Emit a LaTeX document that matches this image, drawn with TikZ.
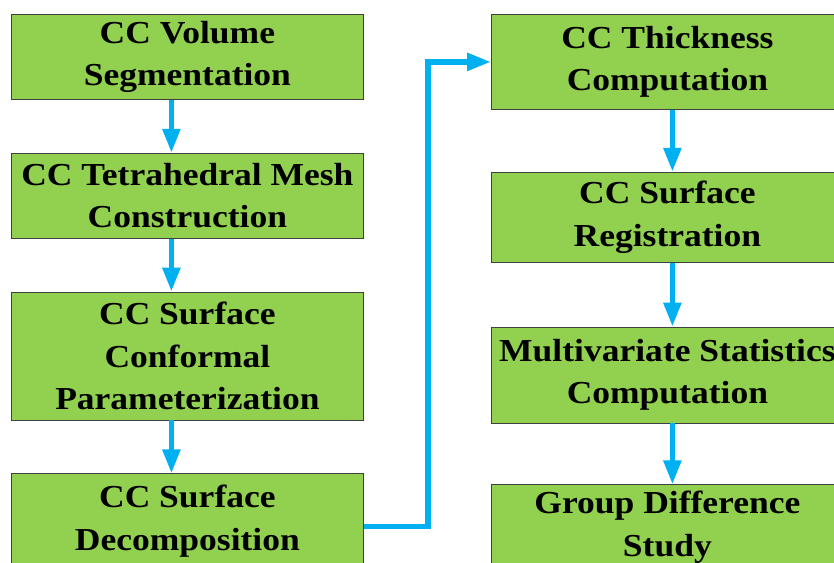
\documentclass[tikz,border=0pt]{standalone}
\usepackage{fontspec}
\setmainfont{Liberation Serif}[FakeStretch=1.11]
\usetikzlibrary{positioning,arrows.meta}
\definecolor{stagegreen}{HTML}{92D050}
\definecolor{flowblue}{HTML}{00B0F0}
\tikzset{
  stage/.style={draw=black!75, line width=0.8pt, fill=stagegreen,
    minimum width=352pt, inner sep=0pt, align=center,
    font=\fontsize{32}{42.5}\selectfont\bfseries},
  flow/.style={draw=flowblue, line width=5.5pt,
    -{Triangle[length=24pt,width=17pt]}},
}
\begin{document}
\begin{tikzpicture}
  \useasboundingbox (0,0) rectangle (834pt,-562pt);
  \clip (0,0) rectangle (834pt,-562pt);
  % left column
  \node[stage, minimum height=85pt, anchor=north west] (vol) at (11pt,-14pt) {CC Volume\\Segmentation};
  \node[stage, minimum height=85pt, below=53pt of vol] (mesh) {CC Tetrahedral Mesh\\Construction};
  \node[stage, minimum height=128pt, below=53pt of mesh] (param) {CC Surface\\Conformal\\Parameterization};
  \node[stage, minimum height=95pt, below=53pt of param] (decomp) {CC Surface\\Decomposition};
  % right column
  \node[stage, minimum height=95pt, anchor=north west] (thick) at (491pt,-14pt) {CC Thickness\\Computation};
  \node[stage, minimum height=90pt, below=62pt of thick] (reg) {CC Surface\\Registration};
  \node[stage, minimum height=96pt, below=64pt of reg] (stats) {Multivariate Statistics\\Computation};
  \node[stage, minimum height=85pt, below=61pt of stats] (group) {Group Difference\\Study};
  % connect nodes
  \draw[flow] ([xshift=-16pt]vol.south) -- ([xshift=-16pt]mesh.north);
  \draw[flow] ([xshift=-16pt]mesh.south) -- ([xshift=-16pt]param.north);
  \draw[flow] ([xshift=-16pt]param.south) -- ([xshift=-16pt]decomp.north);
  \draw[flow] ([yshift=-5pt]decomp.east) -- ++(64pt,0) |- (thick.west);
  \draw[flow] ([xshift=5pt]thick.south) -- ([xshift=5pt]reg.north);
  \draw[flow] ([xshift=5pt]reg.south) -- ([xshift=5pt]stats.north);
  \draw[flow] ([xshift=5pt]stats.south) -- ([xshift=5pt]group.north);
\end{tikzpicture}
\end{document}
